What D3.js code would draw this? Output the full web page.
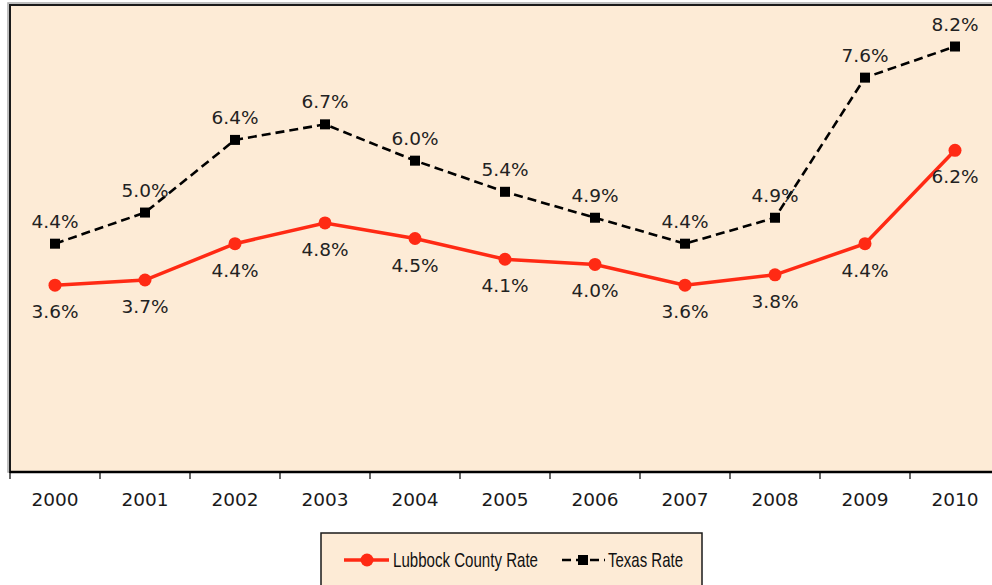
<!DOCTYPE html>
<html>
<head>
<meta charset="utf-8">
<script src="https://cdn.jsdelivr.net/npm/d3@7"></script>
<style>
body { margin: 0; background: #fff; overflow: hidden; }
svg { display: block; }
</style>
</head>
<body>
<div id="chart"></div>
<script>
var years = ['2000','2001','2002','2003','2004','2005','2006','2007','2008','2009','2010']
var lubbock = [3.6, 3.7, 4.4, 4.8, 4.5, 4.1, 4.0, 3.6, 3.8, 4.4, 6.2]
var texas = [4.4, 5.0, 6.4, 6.7, 6.0, 5.4, 4.9, 4.4, 4.9, 7.6, 8.2]

var width = 992, height = 585
var plotLeft = 10, plotTop = 5, plotW = 990, axisY = 472

var svg = d3.select('#chart').append('svg')
	.attr('width', width)
	.attr('height', height)

var xScale = d3.scaleBand()
	.domain(years)
	.range([plotLeft, plotLeft + plotW])

var yScale = d3.scaleLinear()
	.domain([0, 9])
	.range([axisY, plotTop])

// plot area
svg.append('rect')
	.attr('x', plotLeft - 2).attr('y', plotTop - 2)
	.attr('width', plotW + 4).attr('height', axisY - plotTop + 2)
	.attr('fill', 'none').attr('stroke', '#aaa').attr('stroke-width', 1.5)
svg.append('rect')
	.attr('x', plotLeft).attr('y', plotTop)
	.attr('width', plotW).attr('height', axisY - plotTop)
	.attr('fill', '#fdebd6').attr('stroke', '#1a1a1a').attr('stroke-width', 2)

// x axis
var xAxis = svg.append('g')
	.attr('transform', 'translate(0,' + axisY + ')')
xAxis.append('line')
	.attr('x1', plotLeft).attr('x2', plotLeft + plotW)
	.attr('stroke', '#000').attr('stroke-width', 2.5)
xAxis.selectAll('.tick')
	.data(years)
	.enter().append('line')
	.attr('x1', function(d) { return xScale(d) })
	.attr('x2', function(d) { return xScale(d) })
	.attr('y1', 0).attr('y2', 7)
	.attr('stroke', '#000').attr('stroke-width', 1.2)
xAxis.selectAll('text')
	.data(years)
	.enter().append('text')
	.attr('x', function(d) { return xScale(d) + xScale.bandwidth() / 2 })
	.attr('y', 34)
	.attr('text-anchor', 'middle')
	.style('font-family', 'DejaVu Sans, Verdana, sans-serif')
	.style('font-size', '18.5px')
	.attr('fill', '#1a1a1a')
	.text(function(d) { return d })

function cx(d, i) { return xScale(years[i]) + xScale.bandwidth() / 2 }

var line = d3.line()
	.x(function(d, i) { return cx(d, i) })
	.y(function(d) { return yScale(d) })

// Texas
svg.append('path')
	.datum(texas)
	.attr('d', line)
	.attr('fill', 'none')
	.attr('stroke', '#000')
	.attr('stroke-width', 2.6)
	.attr('stroke-dasharray', '9,5')
svg.selectAll('.tx')
	.data(texas)
	.enter().append('rect')
	.attr('class', 'tx')
	.attr('x', function(d, i) { return cx(d, i) - 5 })
	.attr('y', function(d) { return yScale(d) - 5 })
	.attr('width', 10).attr('height', 10)
	.attr('fill', '#000')

// Lubbock
svg.append('path')
	.datum(lubbock)
	.attr('d', line)
	.attr('fill', 'none')
	.attr('stroke', '#ff2a14')
	.attr('stroke-width', 3.5)
svg.selectAll('.lb')
	.data(lubbock)
	.enter().append('circle')
	.attr('class', 'lb')
	.attr('cx', cx)
	.attr('cy', function(d) { return yScale(d) })
	.attr('r', 6.5)
	.attr('fill', '#ff2a14')

// labels
var labelFont = 'DejaVu Sans, Verdana, sans-serif'
svg.selectAll('.txl')
	.data(texas)
	.enter().append('text')
	.attr('x', cx)
	.attr('y', function(d) { return yScale(d) - 16 })
	.attr('text-anchor', 'middle')
	.style('font-family', labelFont)
	.style('font-size', '18.5px')
	.attr('fill', '#222')
	.text(function(d) { return d.toFixed(1) + '%' })
svg.selectAll('.lbl')
	.data(lubbock)
	.enter().append('text')
	.attr('x', cx)
	.attr('y', function(d) { return yScale(d) + 33 })
	.attr('text-anchor', 'middle')
	.style('font-family', labelFont)
	.style('font-size', '18.5px')
	.attr('fill', '#222')
	.text(function(d) { return d.toFixed(1) + '%' })

// legend
var legend = svg.append('g')
legend.append('rect')
	.attr('x', 321).attr('y', 533)
	.attr('width', 381).attr('height', 70)
	.attr('fill', '#fdebd6').attr('stroke', '#1a1a1a').attr('stroke-width', 1.5)
legend.append('line')
	.attr('x1', 344).attr('x2', 389).attr('y1', 560).attr('y2', 560)
	.attr('stroke', '#ff2a14').attr('stroke-width', 3.5)
legend.append('circle')
	.attr('cx', 367).attr('cy', 560).attr('r', 6.5)
	.attr('fill', '#ff2a14')
legend.append('line')
	.attr('x1', 562).attr('x2', 605).attr('y1', 560).attr('y2', 560)
	.attr('stroke', '#000').attr('stroke-width', 2.6)
	.attr('stroke-dasharray', '9,5')
legend.append('rect')
	.attr('x', 578).attr('y', 555).attr('width', 10).attr('height', 10)
	.attr('fill', '#000')
var legendFont = 'Liberation Sans Narrow, Arial Narrow, Liberation Sans, sans-serif'
legend.append('text')
	.attr('x', 393).attr('y', 567)
	.style('font-family', legendFont)
	.style('font-size', '21px')
	.attr('textLength', 145)
	.attr('lengthAdjust', 'spacingAndGlyphs')
	.attr('fill', '#111')
	.text('Lubbock County Rate')
legend.append('text')
	.attr('x', 608).attr('y', 567)
	.style('font-family', legendFont)
	.style('font-size', '21px')
	.attr('textLength', 75)
	.attr('lengthAdjust', 'spacingAndGlyphs')
	.attr('fill', '#111')
	.text('Texas Rate')
</script>
</body>
</html>
